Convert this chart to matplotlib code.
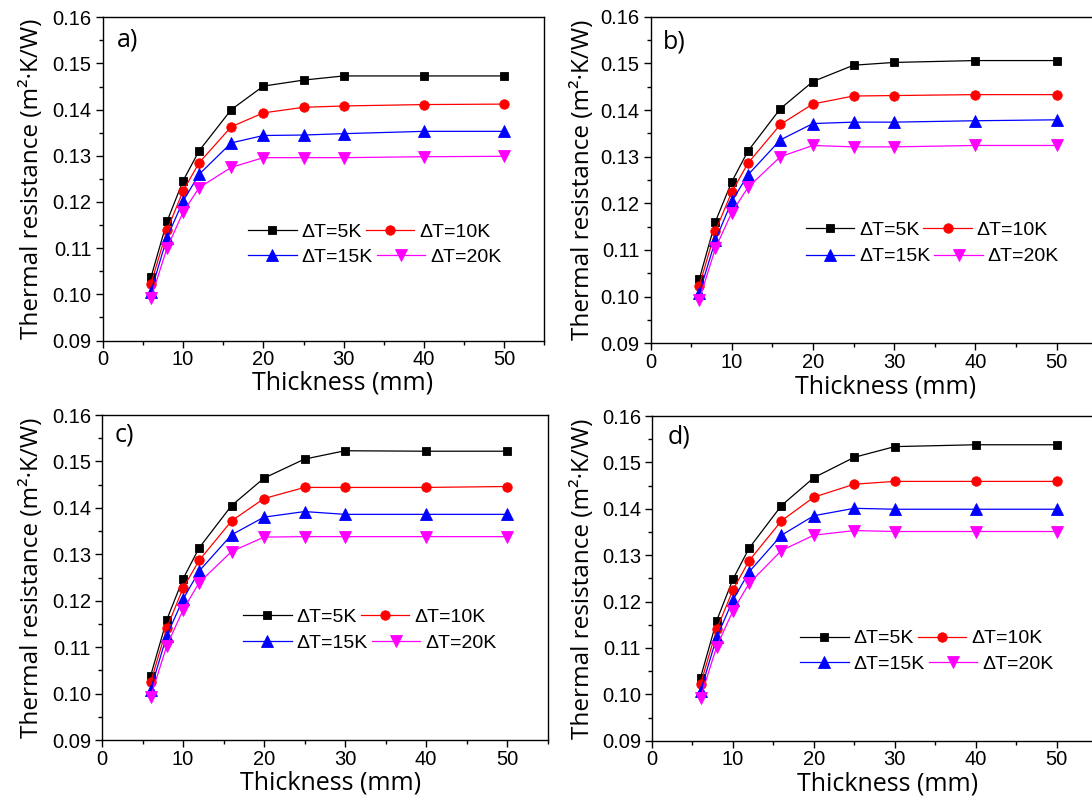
import matplotlib
matplotlib.use("Agg")
import matplotlib.pyplot as plt
from matplotlib.ticker import MultipleLocator, FormatStrFormatter

# ---------------- data ----------------
thickness = [6, 8, 10, 12, 16, 20, 25, 30, 40, 50]
series_labels = ["ΔT=5K", "ΔT=10K", "ΔT=15K", "ΔT=20K"]
panel_labels = ["a)", "b)", "c)", "d)"]

a_5K = [0.1037, 0.1158, 0.1246, 0.1311, 0.1400, 0.1451, 0.1464, 0.1473, 0.1473, 0.1473]
a_10K = [0.1023, 0.1139, 0.1224, 0.1285, 0.1363, 0.1393, 0.1405, 0.1408, 0.1411, 0.1412]
a_15K = [0.1006, 0.1123, 0.1202, 0.1260, 0.1328, 0.1344, 0.1345, 0.1348, 0.1353, 0.1353]
a_20K = [0.0992, 0.1100, 0.1178, 0.1231, 0.1275, 0.1296, 0.1296, 0.1296, 0.1298, 0.1299]

b_5K = [0.1037, 0.1161, 0.1246, 0.1312, 0.1403, 0.1461, 0.1496, 0.1502, 0.1506, 0.1506]
b_10K = [0.1023, 0.1141, 0.1224, 0.1286, 0.1369, 0.1413, 0.1430, 0.1431, 0.1433, 0.1433]
b_15K = [0.1007, 0.1121, 0.1204, 0.1261, 0.1336, 0.1371, 0.1374, 0.1374, 0.1377, 0.1379]
b_20K = [0.0993, 0.1104, 0.1180, 0.1234, 0.1300, 0.1324, 0.1321, 0.1321, 0.1324, 0.1324]

c_5K = [0.1038, 0.1159, 0.1247, 0.1314, 0.1405, 0.1464, 0.1505, 0.1523, 0.1522, 0.1522]
c_10K = [0.1024, 0.1141, 0.1227, 0.1287, 0.1372, 0.1420, 0.1444, 0.1444, 0.1444, 0.1446]
c_15K = [0.1008, 0.1125, 0.1203, 0.1264, 0.1342, 0.1380, 0.1392, 0.1386, 0.1386, 0.1386]
c_20K = [0.0993, 0.1103, 0.1180, 0.1239, 0.1306, 0.1337, 0.1338, 0.1338, 0.1338, 0.1338]

d_5K = [0.1036, 0.1159, 0.1248, 0.1315, 0.1407, 0.1467, 0.1511, 0.1534, 0.1538, 0.1538]
d_10K = [0.1022, 0.1140, 0.1225, 0.1288, 0.1374, 0.1425, 0.1453, 0.1459, 0.1459, 0.1459]
d_15K = [0.1007, 0.1123, 0.1203, 0.1264, 0.1343, 0.1385, 0.1401, 0.1399, 0.1399, 0.1399]
d_20K = [0.0993, 0.1103, 0.1180, 0.1239, 0.1310, 0.1343, 0.1353, 0.1351, 0.1351, 0.1351]

panels_data = [
    [a_5K, a_10K, a_15K, a_20K],
    [b_5K, b_10K, b_15K, b_20K],
    [c_5K, c_10K, c_15K, c_20K],
    [d_5K, d_10K, d_15K, d_20K],
]

# ---------------- styles / layout ----------------
colors = ["#000000", "#FF0000", "#0000FF", "#FF00FF"]
markers = ["s", "o", "^", "v"]
msizes = [5.5, 6.8, 8.5, 8.5]

# axes rectangles in pixels: left, top, right, bottom (fig 1092x801)
W, H = 1092.0, 801.0
rects_px = [
    (102.8, 17.3, 544.4, 340.5),
    (650.5, 16.7, 1097.1, 343.3),
    (102.0, 415.0, 547.5, 740.0),
    (652.0, 416.0, 1097.0, 740.7),
]
legend_pos = [  # x start (data), row1 y, row2 y
    (18.1, 0.1134, 0.1080),
    (19.1, 0.1143, 0.1086),
    (17.4, 0.1164, 0.1109),
    (18.3, 0.1120, 0.1066),
]
xlabel_x = [0.543, 0.526, 0.513, 0.529]
ylabel_x = [-0.133, -0.124, -0.130, -0.127]
plabel_pos = [(0.031, 0.930), (0.027, 0.923), (0.029, 0.940), (0.036, 0.936)]

tick_font = "Liberation Sans"
label_font = "Open Sans"

fig = plt.figure(figsize=(W / 100, H / 100), dpi=100)

for i, (l, t, r, b) in enumerate(rects_px):
    ax = fig.add_axes([l / W, (H - b) / H, (r - l) / W, (b - t) / H])
    handles = []
    for j, ys in enumerate(panels_data[i]):
        h, = ax.plot(thickness, ys, color=colors[j], marker=markers[j],
                     markersize=msizes[j], markeredgewidth=0.6,
                     markerfacecolor=colors[j], markeredgecolor=colors[j],
                     linewidth=0.9, label=series_labels[j], clip_on=False)
        handles.append(h)
    ax.set_xlim(0, 55)
    ax.set_ylim(0.09, 0.16)
    ax.xaxis.set_major_locator(MultipleLocator(10))
    ax.xaxis.set_minor_locator(MultipleLocator(5))
    ax.yaxis.set_major_locator(MultipleLocator(0.01))
    ax.yaxis.set_minor_locator(MultipleLocator(0.005))
    ax.yaxis.set_major_formatter(FormatStrFormatter("%.2f"))
    ax.tick_params(which="major", direction="out", length=5, width=1.0,
                   labelsize=14.5, pad=2.0)
    ax.tick_params(which="minor", direction="out", length=3, width=1.0)
    ax.tick_params(axis="y", which="major", pad=3.0)
    for lab in ax.get_xticklabels() + ax.get_yticklabels():
        lab.set_fontfamily(tick_font)
    for sp in ax.spines.values():
        sp.set_linewidth(1.0)

    ax.set_xlabel("Thickness (mm)", fontsize=18, fontfamily=label_font)
    ax.xaxis.set_label_coords(xlabel_x[i], -0.094)
    ax.set_ylabel("Thermal resistance (m²·K/W)", fontsize=17.5,
                  fontfamily=label_font)
    ax.yaxis.set_label_coords(ylabel_x[i], 0.5)

    ax.text(plabel_pos[i][0], plabel_pos[i][1], panel_labels[i],
            transform=ax.transAxes, fontsize=18, fontfamily=label_font,
            ha="left", va="center")

    lx, ly1, ly2 = legend_pos[i]
    common = dict(loc="center left", bbox_transform=ax.transData, ncol=2,
                  frameon=False, borderpad=0, borderaxespad=0,
                  handlelength=2.5, handletextpad=0.25, columnspacing=0.2,
                  numpoints=1, prop={"family": tick_font, "size": 14})
    leg1 = ax.legend(handles[0:2], series_labels[0:2],
                     bbox_to_anchor=(lx, ly1), **common)
    ax.add_artist(leg1)
    ax.legend(handles[2:4], series_labels[2:4],
              bbox_to_anchor=(lx, ly2), **common)

fig.savefig("out.png", dpi=100)
